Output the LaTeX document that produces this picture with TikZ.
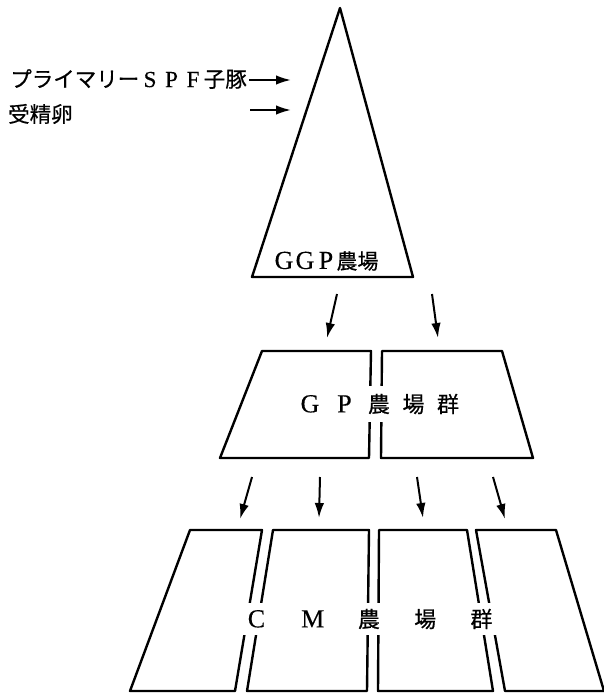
\documentclass[tikz,border=0pt]{standalone}
\usepackage{fontspec}
\setmainfont{Liberation Serif}
\newfontfamily\jpfont[FakeBold=0.6]{Noto Sans CJK JP}
\newfontfamily\latfont[FakeBold=0.3]{Liberation Serif}
\usetikzlibrary{arrows.meta}
\newcommand\fwch[2][1em]{\makebox[#1]{#2}}
\newcommand\latch[2][26]{{\latfont\fontsize{#1}{#1}\selectfont #2}}
\begin{document}
\begin{tikzpicture}[x=1pt,y=-1pt,
  shape line/.style={line width=2.4pt, line join=round},
  flow/.style={line width=2pt, -{Latex[length=15pt,width=9.5pt]}},
  lbl/.style={inner sep=0pt, font=\jpfont\fontsize{21.5}{24}\selectfont},
  gaptext/.style={fill=white, inner sep=0pt}]
\useasboundingbox (0,0) rectangle (604,693);

% triangle (GGP)
\coordinate (apex) at (340,8);
\coordinate (tbl) at (252,277);
\coordinate (tbr) at (413,277);
\draw[shape line] (apex) -- (tbr) -- (tbl) -- cycle;
\node[inner sep=0pt, font=\jpfont\fontsize{21}{24}\selectfont] (ggp) at (326,261)
  {\fwch{\latch{G}}\fwch{\latch{G}}\fwch{\latch{P}}農場};

% inputs
\node[lbl, anchor=east] (spf) at (247,79)
  {プライマリー\fwch{\latch[23]{S}}\fwch{\latch[23]{P}}\fwch{\latch[23]{F}}子豚};
\node[lbl, anchor=west] (egg) at (8,114) {受精卵};
\coordinate (spfend) at (291,80);
\coordinate (eggstart) at (250,110);
\coordinate (eggend) at (291,110);
\draw[flow] (spf.east) ++(2,1) -- (spfend);
\draw[flow] (eggstart) -- (eggend);

% GP farms
\draw[shape line] (262,351) -- (371,351) -- (369,458) -- (220,458) -- cycle;
\draw[shape line] (382,351) -- (502,351) -- (533,458) -- (381,458) -- cycle;
\node[gaptext, minimum height=36pt, font=\jpfont\fontsize{22}{24}\selectfont] (gp) at (379,404)
  {\fwch[34.5pt]{\latch{G}}\fwch[34.5pt]{\latch{P}}\fwch[34.5pt]{農}\fwch[34.5pt]{場}\fwch[34.5pt]{群}};

% arrows GGP -> GP
\coordinate (a1s) at (337,294); \coordinate (a1e) at (327,338);
\coordinate (a2s) at (432,294); \coordinate (a2e) at (438,338);
\draw[flow] (a1s) -- (a1e);
\draw[flow] (a2s) -- (a2e);

% arrows GP -> CM
\coordinate (b1s) at (252,477); \coordinate (b1e) at (240,519);
\coordinate (b2s) at (320,477); \coordinate (b2e) at (319,518);
\coordinate (b3s) at (417,477); \coordinate (b3e) at (423,518);
\coordinate (b4s) at (493,477); \coordinate (b4e) at (505,519);
\draw[flow] (b1s) -- (b1e);
\draw[flow] (b2s) -- (b2e);
\draw[flow] (b3s) -- (b3e);
\draw[flow] (b4s) -- (b4e);

% CM farms
\draw[shape line] (190,530) -- (262,530) -- (235,691) -- (130,691) -- cycle;
\draw[shape line] (273,530) -- (369,530) -- (367,691) -- (247,691) -- cycle;
\draw[shape line] (379,530) -- (467,530) -- (493,691) -- (378,691) -- cycle;
\draw[shape line] (476,530) -- (556,530) -- (604,691) -- (505,691) -- cycle;
\node[gaptext, minimum height=32pt, font=\jpfont\fontsize{22}{24}\selectfont] (cm) at (369,619)
  {\fwch[56.25pt]{\latch{C}}\fwch[56.25pt]{\latch{M}}\fwch[56.25pt]{農}\fwch[56.25pt]{場}\fwch[56.25pt]{群}};
\end{tikzpicture}
\end{document}
